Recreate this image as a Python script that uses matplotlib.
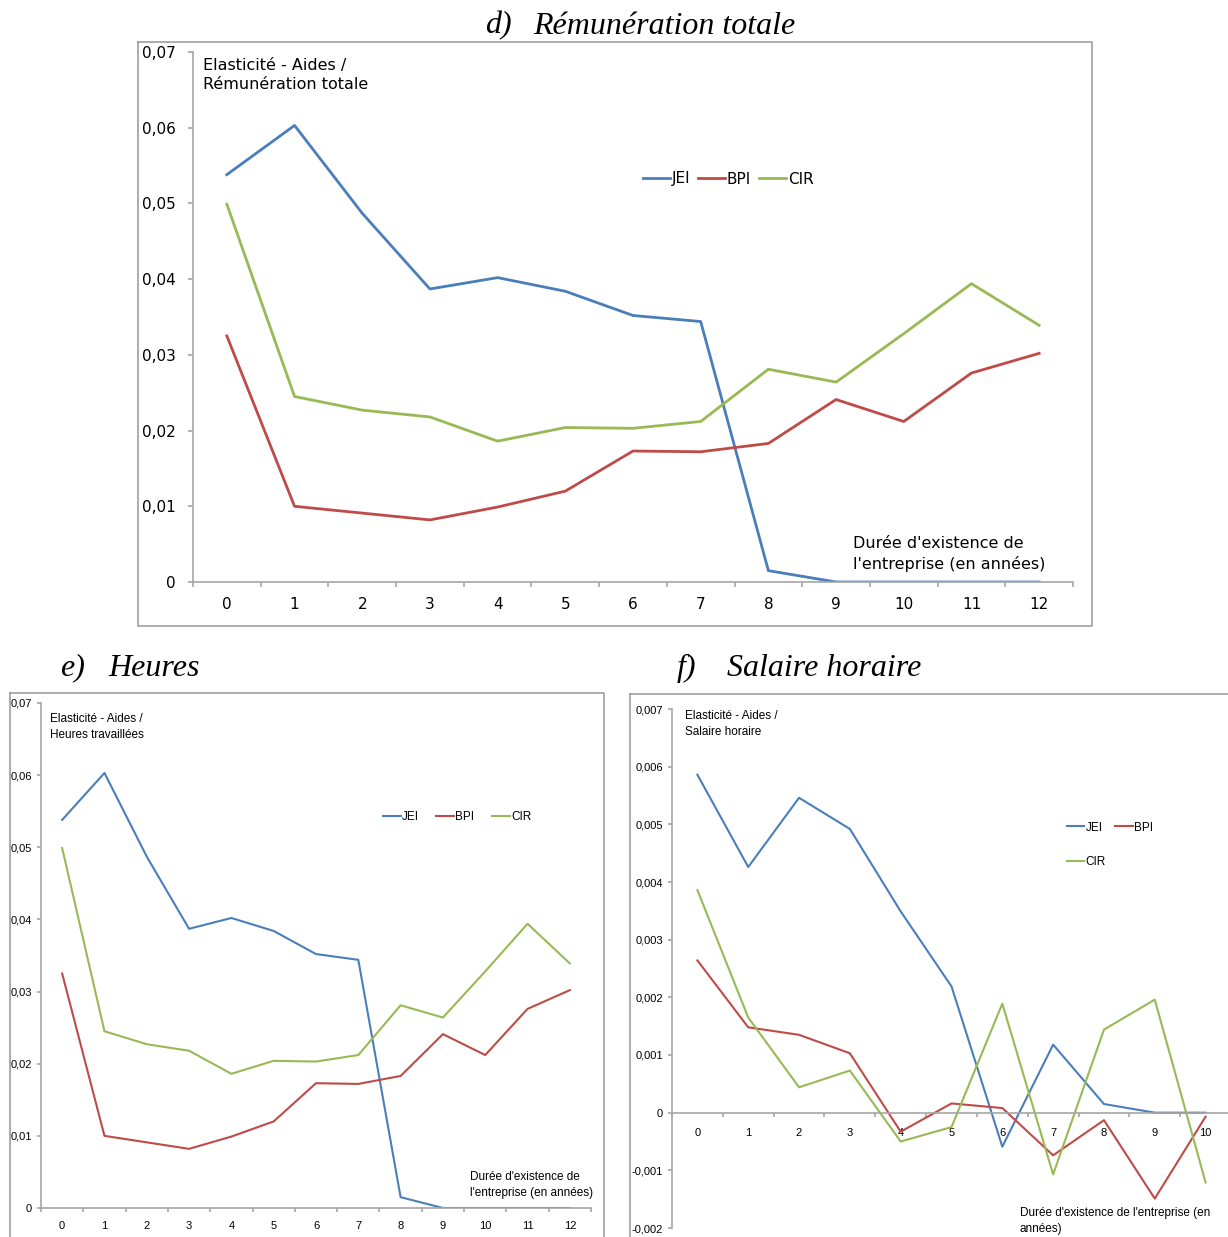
import matplotlib
matplotlib.use("Agg")
import matplotlib.pyplot as plt
from matplotlib.ticker import FixedLocator, FuncFormatter, NullFormatter
from matplotlib.lines import Line2D
import numpy as np

W, H = 1228, 1237

# ---------------- data ----------------
years_12 = list(range(13))
years_10 = list(range(11))

rem_jei = [0.0538, 0.0603, 0.0487, 0.0387, 0.0402, 0.0384, 0.0352, 0.0344, 0.0015, 0.0, 0.0, 0.0, 0.0]
rem_bpi = [0.0325, 0.0100, 0.0091, 0.0082, 0.0099, 0.0120, 0.0173, 0.0172, 0.0183, 0.0241, 0.0212, 0.0276, 0.0302]
rem_cir = [0.0499, 0.0245, 0.0227, 0.0218, 0.0186, 0.0204, 0.0203, 0.0212, 0.0281, 0.0264, 0.0328, 0.0394, 0.0339]

hrs_jei = [0.0538, 0.0603, 0.0487, 0.0387, 0.0402, 0.0384, 0.0352, 0.0344, 0.0015, 0.0, 0.0, 0.0, 0.0]
hrs_bpi = [0.0325, 0.0100, 0.0091, 0.0082, 0.0099, 0.0120, 0.0173, 0.0172, 0.0183, 0.0241, 0.0212, 0.0276, 0.0302]
hrs_cir = [0.0499, 0.0245, 0.0227, 0.0218, 0.0186, 0.0204, 0.0203, 0.0212, 0.0281, 0.0264, 0.0328, 0.0394, 0.0339]

sal_jei = [0.00586, 0.00426, 0.00546, 0.00492, 0.00349, 0.00219, -0.00059, 0.00118, 0.00015, 0.0, 0.0]
sal_bpi = [0.00264, 0.00148, 0.00135, 0.00103, -0.00033, 0.00016, 0.00008, -0.00074, -0.00013, -0.00149, -0.00007]
sal_cir = [0.00386, 0.00165, 0.00044, 0.00073, -0.00050, -0.00025, 0.00189, -0.00107, 0.00144, 0.00196, -0.00121]

series_names = ["JEI", "BPI", "CIR"]
colors = ["#4A7EBB", "#BE4B48", "#98B954"]

fig = plt.figure(figsize=(W / 100, H / 100), dpi=100)

PT = 0.72  # points per pixel at dpi 100

def fx(x):
    return x / W

def fy(y):
    return 1 - y / H

def add_ax(left, top, right, bottom):
    return fig.add_axes([fx(left), fy(bottom), fx(right) - fx(left), fy(top) - fy(bottom)])

def frame(left, top, right, bottom):
    pts_x = [left, right, right, left, left]
    pts_y = [top, top, bottom, bottom, top]
    fig.add_artist(Line2D([fx(v) for v in pts_x], [fy(v) for v in pts_y],
                          transform=fig.transFigure, color="#a0a0a0", lw=1.2, clip_on=False))

axis_col = "#A6A6A6"

def style_axes(ax, n, ylim, yticks, fmt, fs, family, zero_spine=False, tick_px=5, xpad_px=8, ypad_px=8):
    ax.set_xlim(-0.5, n - 0.5)
    ax.set_ylim(*ylim)
    for s in ["top", "right"]:
        ax.spines[s].set_visible(False)
    for s in ["left", "bottom"]:
        ax.spines[s].set_color(axis_col)
        ax.spines[s].set_linewidth(1.2)
    if zero_spine:
        ax.spines["bottom"].set_position(("data", 0))
    ax.xaxis.set_major_locator(FixedLocator(np.arange(-0.5, n, 1.0)))
    ax.xaxis.set_major_formatter(NullFormatter())
    ax.xaxis.set_minor_locator(FixedLocator(np.arange(0, n, 1)))
    ax.xaxis.set_minor_formatter(FuncFormatter(lambda v, p: f"{int(round(v))}"))
    ax.tick_params(axis="x", which="major", length=tick_px * PT, color=axis_col, width=1.2, direction="out")
    ax.tick_params(axis="x", which="minor", length=0, pad=xpad_px * PT, labelsize=fs)
    ax.yaxis.set_major_locator(FixedLocator(yticks))
    ax.yaxis.set_major_formatter(FuncFormatter(fmt))
    ax.tick_params(axis="y", length=tick_px * PT, color=axis_col, width=1.2, direction="out",
                   pad=ypad_px * PT, labelsize=fs)
    for lab in ax.get_xticklabels(minor=True) + ax.get_yticklabels():
        lab.set_family(family)
    ax.patch.set_alpha(0)

fmt2 = lambda v, p: "0" if abs(v) < 1e-12 else f"{v:.2f}".replace(".", ",")
fmt3 = lambda v, p: "0" if abs(v) < 1e-12 else f"{v:.3f}".replace(".", ",")

serif = ["Liberation Serif", "DejaVu Serif"]
wide = ["DejaVu Sans"]
narrow = ["Liberation Sans Narrow", "Liberation Sans", "DejaVu Sans"]

def title(xlab, xword, y, lab, word):
    fig.text(fx(xlab), fy(y), lab, fontsize=23, family=serif, style="italic", ha="left", va="center")
    fig.text(fx(xword), fy(y), word, fontsize=23, family=serif, style="italic", ha="left", va="center")

# ---------------- panel d ----------------
frame(138, 42, 1092, 626)
axd = add_ax(193, 52, 1073, 582)
for vals, name, c in zip([rem_jei, rem_bpi, rem_cir], series_names, colors):
    axd.plot(years_12, vals, color=c, lw=2.0, label=name, solid_joinstyle="round")
style_axes(axd, 13, (0, 0.07), np.arange(0, 0.0701, 0.01), fmt2, 11, wide, tick_px=5, xpad_px=15, ypad_px=12)
axd.legend(loc="center", bbox_to_anchor=(fx(728), fy(179)), bbox_transform=fig.transFigure,
           ncol=3, frameon=False, handlelength=1.8, handletextpad=0.1,
           columnspacing=0.5, prop={"family": wide, "size": 11})
fig.text(fx(203), fy(75), "Elasticité - Aides /\nRémunération totale",
         fontsize=11.5, family=wide, va="center", ha="left", linespacing=1.35)
fig.text(fx(853), fy(554), "Durée d'existence de\nl'entreprise (en années)",
         fontsize=11.5, family=wide, va="center", ha="left", linespacing=1.35)
title(485, 533, 26, "d)", "Rémunération totale")

# ---------------- panel e ----------------
frame(10, 693, 604, 1245)
axe = add_ax(41, 703, 591, 1208)
for vals, name, c in zip([hrs_jei, hrs_bpi, hrs_cir], series_names, colors):
    axe.plot(years_12, vals, color=c, lw=1.5, label=name)
style_axes(axe, 13, (0, 0.07), np.arange(0, 0.0701, 0.01), fmt2, 8, narrow, tick_px=4, xpad_px=13, ypad_px=5)
axe.legend(loc="center", bbox_to_anchor=(fx(457), fy(817)), bbox_transform=fig.transFigure,
           ncol=3, frameon=False, handlelength=1.5, handletextpad=0.1, columnspacing=1.5,
           prop={"family": narrow, "size": 8.5})
fig.text(fx(50), fy(727), "Elasticité - Aides /\nHeures travaillées", fontsize=8.5, family=narrow,
         va="center", ha="left", linespacing=1.55)
fig.text(fx(470), fy(1185), "Durée d'existence de\nl'entreprise (en années)", fontsize=8.5, family=narrow,
         va="center", ha="left", linespacing=1.55)
title(60, 108, 668, "e)", "Heures")

# ---------------- panel f ----------------
frame(630, 694, 1240, 1245)
axf = add_ax(672, 709, 1231, 1228)
lines_f = []
for vals, name, c in zip([sal_jei, sal_bpi, sal_cir], series_names, colors):
    ln, = axf.plot(years_10, vals, color=c, lw=1.5, label=name)
    lines_f.append(ln)
style_axes(axf, 11, (-0.002, 0.007), np.arange(-0.002, 0.00701, 0.001), fmt3, 8, narrow,
           zero_spine=True, tick_px=4, xpad_px=15, ypad_px=5)
order = [0, 2, 1]
axf.legend([lines_f[i] for i in order], [series_names[i] for i in order],
           loc="upper left", bbox_to_anchor=(fx(1056), fy(811)), bbox_transform=fig.transFigure,
           ncol=2, frameon=False, handlelength=1.5, handletextpad=0.1, columnspacing=0.8,
           labelspacing=1.9, prop={"family": narrow, "size": 8.5})
fig.text(fx(685), fy(724), "Elasticité - Aides /\nSalaire horaire", fontsize=8.5, family=narrow,
         va="center", ha="left", linespacing=1.55)
fig.text(fx(1020), fy(1221), "Durée d'existence de l'entreprise (en\nannées)", fontsize=8.5, family=narrow,
         va="center", ha="left", linespacing=1.55)
title(677, 727, 668, "f)", "Salaire horaire")

fig.savefig("out.png", dpi=100, facecolor="white")
